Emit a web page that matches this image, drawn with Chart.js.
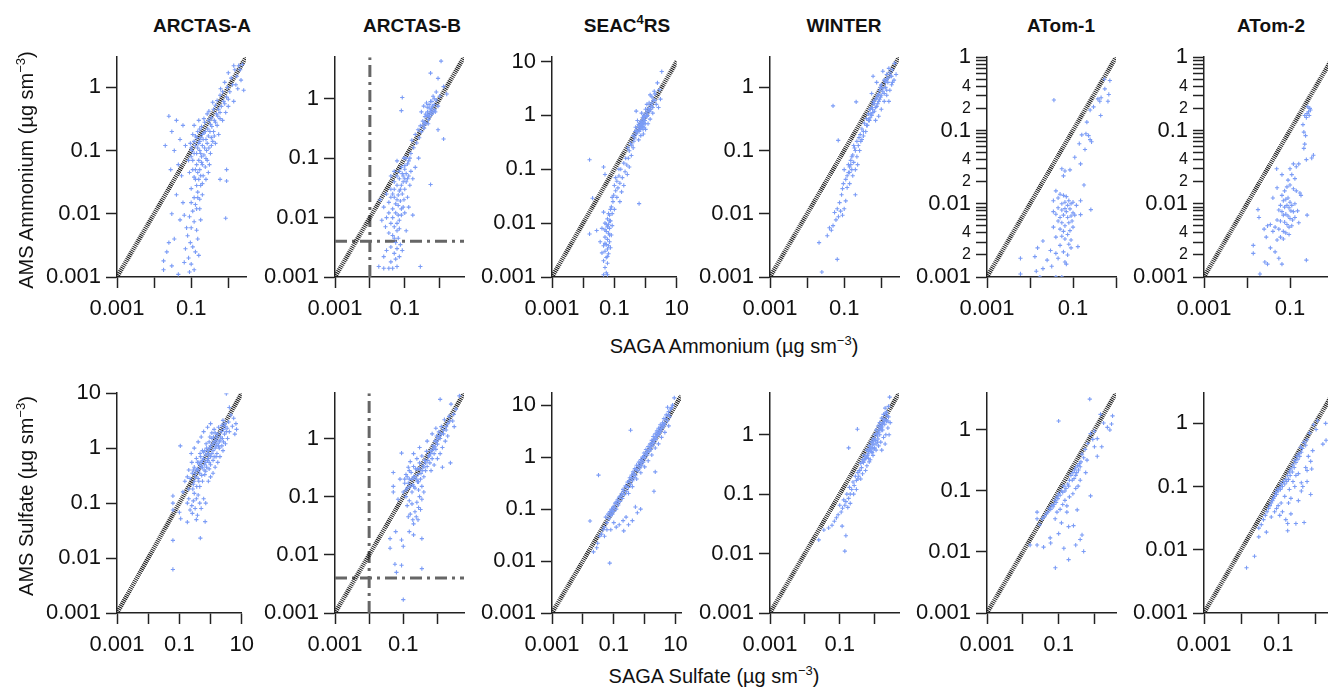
<!DOCTYPE html>
<html>
<head>
<meta charset="utf-8">
<script src="https://cdn.jsdelivr.net/npm/chart.js@4.4.1/dist/chart.umd.min.js"></script>
<style>
  body { margin: 0; width: 1328px; height: 687px; overflow: hidden; background: #fff; position: relative;
         font-family: "Liberation Sans", Arial, sans-serif; color: #111; }
  .ttl { position: absolute; top: 15px; font-weight: bold; font-size: 19px; line-height: 22px;
         transform: translateX(-50%); white-space: nowrap; }
  .axt { position: absolute; font-size: 20px; line-height: 24px; white-space: nowrap; }
  .axt sup, .ttl sup { font-size: 13px; vertical-align: 8px; line-height: 0; }
  canvas { position: absolute; }
</style>
</head>
<body>
<script>
// campaign titles (HTML so SEAC4RS can carry its superscript)
const campaigns = ['ARCTAS-A', 'ARCTAS-B', 'SEAC<sup>4</sup>RS', 'WINTER', 'ATom-1', 'ATom-2'];

// axis upper limits [x, y] per campaign, lower limit is always 0.001
const nh4Limits = [[3, 3], [5, 5], [10, 12], [3, 3], [1, 1], [1, 1]];
const so4Limits = [[10, 10], [6, 6], [15, 17], [5, 5], [4, 4], [3, 3]];

// detection limits drawn for ARCTAS-B (SAGA, AMS)
const lodSaga = 0.01;
const lodAms = 0.004;

// ---- ammonium: [SAGA, AMS] ----
const nh4_arctasA = [
  [2.4,2.3],[2.1,1.9],[1.9,2.2],[1.7,1.5],[2.2,1.3],[1.5,1.9],[1.3,1.1],[1.2,1.4],[1.1,0.85],[0.95,1.0],
  [0.9,0.7],[0.8,1.2],[0.75,0.6],[0.7,0.85],[0.65,0.5],[0.6,0.75],[0.55,0.45],[0.5,0.62],[0.48,0.38],[0.45,0.52],
  [0.42,0.3],[0.4,0.45],[0.38,0.58],[0.35,0.33],[0.33,0.26],[0.3,0.42],[2.6,0.9],[1.8,0.95],[1.4,0.6],[1.0,0.5],
  [0.85,0.4],[0.6,0.32],[1.4,2.2],[1.0,1.7],
  [0.28,0.22],[0.25,0.15],[0.22,0.19],[0.2,0.12],[0.18,0.09],[0.17,0.14],[0.16,0.07],[0.15,0.11],[0.14,0.06],[0.13,0.17],
  [0.12,0.09],[0.11,0.05],[0.1,0.08],[0.095,0.13],[0.09,0.045],[0.3,0.11],[0.35,0.16],[0.4,0.2],[0.27,0.07],[0.24,0.055],
  [0.21,0.04],[0.19,0.065],[0.16,0.035],[0.14,0.028],[0.12,0.038],[0.1,0.025],[0.33,0.09],[0.45,0.13],[0.5,0.25],[0.23,0.28],
  [0.19,0.24],[0.15,0.2],[0.12,0.25],[0.17,0.05],[0.26,0.1],[0.31,0.06],[0.22,0.085],[0.18,0.16],[0.13,0.12],[0.105,0.1],
  [0.085,0.07],[0.2,0.03],[0.25,0.035],[0.29,0.045],[0.55,0.18],[0.7,0.3],
  [0.21,0.15],[0.23,0.11],[0.17,0.1],[0.19,0.08],[0.14,0.09],[0.16,0.13],[0.2,0.18],[0.24,0.2],[0.27,0.13],[0.29,0.17],
  [0.32,0.2],[0.36,0.24],[0.38,0.14],[0.42,0.17],[0.15,0.045],[0.18,0.04],[0.13,0.05],[0.11,0.07],[0.12,0.14],[0.1,0.11],
  [0.17,0.22],[0.22,0.32],[0.27,0.38],[0.3,0.3],[0.2,0.06],[0.25,0.075],[0.14,0.16],[0.16,0.3],[0.11,0.18],[0.13,0.035],
  [0.18,0.028],[0.15,0.022],[0.12,0.018],[0.17,0.017],[0.14,0.012],[0.1,0.015],[0.6,0.4],[0.52,0.35],[0.8,0.55],[1.0,0.65],
  [1.6,1.1],[0.62,0.95],[0.45,0.28],[0.35,0.12],
  [0.15,0.018],[0.13,0.014],[0.11,0.011],[0.17,0.012],[0.09,0.009],[0.1,0.006],[0.12,0.0075],[0.14,0.0055],[0.08,0.0045],[0.095,0.0035],
  [0.11,0.003],[0.13,0.0025],[0.07,0.0028],[0.085,0.002],[0.1,0.0016],[0.12,0.0013],[0.15,0.004],[0.18,0.008],[0.2,0.02],[0.16,0.0022],
  [0.09,0.0012],[0.075,0.006],[0.06,0.015],[0.065,0.0095],
  [0.025,0.35],[0.03,0.2],[0.04,0.3],[0.05,0.15],[0.035,0.1],[0.06,0.25],[0.045,0.06],[0.02,0.12],[0.028,0.05],[0.055,0.04],
  [0.07,0.12],[0.04,0.02],[0.03,0.01],[0.05,0.008],[0.035,0.004],[0.025,0.0035],[0.018,0.0018],[0.022,0.0025],[0.03,0.0015],[0.018,0.0013],
  [0.045,0.0011],[0.065,0.0017],[0.85,0.0085],[0.9,0.033],[0.9,0.05],[0.6,0.035]
];
const nh4_arctasB = [
  [1.1,4.3],[0.55,2.7],[0.9,2.2],[1.3,1.6],[0.8,1.3],[0.65,1.1],[0.7,0.8],[0.55,0.9],[0.5,0.7],[0.45,0.6],
  [0.42,0.85],[0.6,0.55],[0.38,0.5],[0.35,0.75],[0.48,0.45],[0.4,0.38],[0.33,0.42],[0.3,0.6],[0.55,0.62],[0.62,0.75],
  [0.75,0.6],[0.52,0.5],[0.44,0.72],[0.36,0.32],[0.3,0.28],[0.28,0.35],[0.26,0.22],[0.24,0.3],[0.22,0.18],[0.2,0.25],
  [0.18,0.15],[0.16,0.2],[0.15,0.12],[0.14,0.1],[1.3,0.21],[0.9,0.3],[0.085,1.05],[0.08,0.63],[1.6,1.2],
  [0.5,0.55],[0.45,0.52],[0.58,0.68],[0.65,0.6],[0.4,0.55],[0.5,0.8],[0.6,0.9],[0.7,1.0],[0.38,0.4],[0.34,0.36],
  [0.8,0.95],[0.9,0.75],[0.47,0.38],[1.0,1.1],[0.72,0.65],
  [0.12,0.08],[0.1,0.065],[0.09,0.05],[0.08,0.07],[0.07,0.045],[0.06,0.035],[0.05,0.04],[0.11,0.04],[0.1,0.03],[0.085,0.025],
  [0.07,0.028],[0.06,0.02],[0.05,0.022],[0.04,0.03],[0.035,0.018],[0.045,0.014],[0.055,0.012],[0.065,0.016],[0.075,0.019],[0.09,0.015],
  [0.12,0.022],[0.13,0.05],[0.14,0.035],[0.15,0.06],[0.04,0.05],[0.03,0.025],[0.025,0.015],[0.03,0.01],[0.04,0.008],[0.05,0.007],
  [0.06,0.006],[0.07,0.009],[0.08,0.011],[0.1,0.012],[0.065,0.0045],[0.055,0.0038],[0.045,0.005],[0.035,0.0055],[0.028,0.007],[0.022,0.009],
  [0.09,0.04],[0.08,0.035],[0.07,0.06],[0.1,0.045],[0.06,0.05],[0.05,0.03],[0.045,0.025],[0.065,0.024],[0.075,0.03],[0.095,0.02],
  [0.11,0.055],[0.12,0.045],[0.085,0.055],[0.055,0.017],[0.065,0.011],[0.045,0.01],[0.08,0.014],[0.035,0.012],[0.04,0.022],[0.1,0.075],
  [0.13,0.09],[0.11,0.1],[0.06,0.008],[0.05,0.0045],[0.07,0.0065],
  [0.075,0.0035],[0.06,0.003],[0.05,0.0025],[0.04,0.0032],[0.03,0.0028],[0.085,0.0028],[0.07,0.0022],[0.055,0.002],[0.04,0.0018],[0.025,0.0022],
  [0.018,0.0015],[0.025,0.0014],[0.035,0.0014],[0.045,0.0014],[0.06,0.0015],[0.28,0.0015],[0.17,0.011],[0.55,0.036],[0.11,0.006],[0.13,0.015],
  [0.02,0.02],[0.06,0.09],[0.05,0.06],[0.095,0.1],[0.17,0.045],[0.2,0.07],[0.25,0.1]
];
const nh4_seac4rs = [
  [3.3,6.5],[2.4,4.0],[2.0,2.5],[1.8,1.9],[1.6,2.2],[1.5,1.5],[1.3,1.7],[1.2,1.2],[1.1,0.95],[1.0,1.3],
  [0.95,0.8],[0.9,1.0],[0.85,0.7],[0.8,0.9],[0.75,0.6],[0.7,0.75],[0.65,0.55],[0.6,0.68],[0.55,0.5],[0.5,0.45],
  [0.48,0.6],[0.45,0.38],[0.42,0.33],[0.4,0.42],[0.36,0.28],[0.33,0.3],[0.3,0.22],[2.6,1.4],[2.2,1.6],[1.7,1.1],
  [1.4,0.85],[1.2,0.7],[1.0,0.55],[0.85,0.45],[0.7,0.42],[0.6,0.35],[1.9,2.8],[1.4,2.4],[1.1,1.6],[0.75,1.1],
  [0.55,0.8],[0.5,1.2],[0.9,0.6],[3.0,2.0],[2.8,3.0],
  [0.95,0.9],[0.85,0.82],[0.8,0.62],[0.75,0.78],[0.7,0.55],[0.65,0.65],[0.62,0.5],[0.58,0.6],[0.9,0.72],[1.05,1.1],
  [1.15,1.0],[1.25,1.35],[1.35,1.2],[1.45,1.3],[0.78,0.7],[0.68,0.6],[0.72,0.68],[0.88,0.95],[0.52,0.52],[0.46,0.5],
  [1.6,1.7],[1.7,1.4],[2.0,1.9],[0.98,0.7],[0.83,0.55],
  [0.28,0.16],[0.25,0.12],[0.22,0.09],[0.2,0.13],[0.18,0.07],[0.16,0.1],[0.15,0.055],[0.14,0.075],[0.13,0.045],[0.12,0.06],
  [0.11,0.04],[0.1,0.05],[0.095,0.033],[0.12,0.03],[0.3,0.11],[0.26,0.08],[0.2,0.05],[0.35,0.18],[0.4,0.25],[0.17,0.038],
  [0.15,0.025],[0.085,0.03],[0.11,0.07],[0.14,0.1],[0.23,0.16],[0.27,0.25],
  [0.09,0.025],[0.08,0.02],[0.085,0.015],[0.07,0.014],[0.075,0.011],[0.065,0.0095],[0.06,0.012],[0.07,0.008],[0.055,0.007],[0.065,0.0065],
  [0.05,0.0055],[0.06,0.005],[0.07,0.0045],[0.055,0.004],[0.045,0.0038],[0.06,0.0033],[0.05,0.003],[0.065,0.0027],[0.055,0.0023],[0.045,0.002],
  [0.06,0.0018],[0.05,0.0015],[0.055,0.0012],[0.045,0.0011],[0.06,0.0011],[0.08,0.006],[0.085,0.009],[0.1,0.018],[0.075,0.0035],[0.04,0.0028],
  [0.035,0.0045],[0.04,0.008],[0.05,0.01],[0.045,0.016],[0.065,0.015],[0.06,0.0085],[0.055,0.0095],[0.07,0.006],[0.05,0.0075],[0.065,0.0038],
  [0.05,0.0042],[0.06,0.0024],[0.07,0.011],[0.075,0.018],
  [0.016,0.15],[0.02,0.029],[0.016,0.0063],[0.027,0.0073],[0.62,0.023],[0.045,0.11],[0.05,0.08]
];
const nh4_winter = [
  [2.3,2.4],[2.0,1.9],[1.8,1.5],[1.6,2.0],[1.5,1.2],[1.4,1.6],[1.3,1.0],[1.2,1.3],[1.1,0.85],[1.0,1.1],
  [0.95,0.7],[0.9,0.9],[0.85,0.6],[0.8,0.75],[0.75,0.5],[0.7,0.65],[0.65,0.42],[0.6,0.55],[0.55,0.36],[0.5,0.45],
  [0.48,0.3],[0.45,0.38],[0.42,0.25],[0.4,0.32],[0.38,0.2],[0.35,0.27],[0.33,0.17],[0.3,0.22],[2.2,1.3],[1.9,1.1],
  [1.7,0.9],[1.4,0.75],[1.2,0.6],[1.0,0.45],[0.85,0.35],[0.7,0.3],[0.6,1.5],[0.75,1.2],[1.1,1.8],[0.55,0.8],
  [2.5,1.6],[1.6,0.6],
  [1.5,1.4],[1.3,1.2],[1.2,0.8],[1.1,0.95],[1.0,0.75],[0.9,0.65],[0.85,0.78],[0.8,0.55],[0.75,0.68],[0.7,0.48],
  [0.65,0.55],[0.6,0.4],[0.55,0.48],[0.5,0.33],[0.45,0.3],[0.4,0.25],[1.7,1.7],[1.9,1.5],[2.0,1.2],[1.4,0.9],
  [0.58,0.45],[0.52,0.38],[0.62,0.6],[0.95,1.0],[1.35,1.3],
  [0.28,0.14],[0.26,0.1],[0.24,0.12],[0.22,0.08],[0.2,0.1],[0.18,0.065],[0.17,0.085],[0.16,0.05],[0.15,0.07],[0.14,0.045],
  [0.13,0.06],[0.12,0.04],[0.11,0.035],[0.1,0.05],[0.12,0.026],[0.14,0.03],[0.17,0.04],[0.2,0.05],[0.23,0.06],[0.095,0.03],
  [0.09,0.025],[0.25,0.16],[0.3,0.15],[0.069,0.145],[0.2,0.02],
  [0.22,0.14],[0.19,0.11],[0.16,0.08],[0.14,0.055],[0.13,0.045],[0.18,0.12],[0.27,0.18],[0.33,0.2],[0.15,0.06],
  [0.085,0.02],[0.075,0.015],[0.08,0.011],[0.07,0.009],[0.065,0.012],[0.06,0.008],[0.055,0.0105],[0.09,0.0095],[0.1,0.012],[0.05,0.0065],
  [0.045,0.0055],[0.04,0.006],[0.11,0.016],[0.035,0.0045],
  [0.05,0.51],[0.21,0.59],[0.021,0.0035],[0.065,0.0019],[0.025,0.0012]
];
const nh4_atom1 = [
  [0.036,0.26],[0.54,0.5],[0.72,0.48],[0.55,0.37],[0.68,0.31],[0.45,0.28],[0.38,0.27],[0.42,0.25],[0.65,0.25],[0.3,0.21],
  [0.25,0.19],[0.44,0.16],[0.21,0.13],[0.16,0.087],[0.2,0.09],[0.23,0.085],[0.25,0.075],[0.27,0.07],[0.14,0.066],[0.19,0.055],
  [0.11,0.043],[0.15,0.035],[0.18,0.018],[0.055,0.03],[0.065,0.028],[0.06,0.024],[0.085,0.029],
  [0.04,0.015],[0.05,0.0135],[0.045,0.012],[0.06,0.013],[0.07,0.0125],[0.035,0.011],[0.055,0.01],[0.065,0.0105],[0.075,0.0095],[0.08,0.011],
  [0.09,0.01],[0.1,0.0105],[0.045,0.0088],[0.055,0.0082],[0.065,0.0086],[0.07,0.0078],[0.085,0.0085],[0.035,0.0078],[0.04,0.0072],[0.05,0.0065],
  [0.06,0.007],[0.075,0.0065],[0.09,0.0068],[0.1,0.0075],[0.11,0.007],[0.045,0.0058],[0.055,0.0055],[0.065,0.005],[0.08,0.0055],[0.095,0.0058],
  [0.035,0.0048],[0.05,0.0045],[0.06,0.0042],[0.075,0.0038],[0.085,0.0043],[0.1,0.0048],[0.04,0.0035],[0.055,0.0036],[0.065,0.0033],[0.09,0.0032],
  [0.15,0.011],[0.26,0.0083],[0.15,0.0071],[0.13,0.0026],[0.12,0.0095],
  [0.013,0.0019],[0.006,0.0018],[0.006,0.0011],[0.014,0.0012],[0.017,0.001],[0.02,0.0013],[0.015,0.0025],[0.02,0.0031],[0.04,0.001],[0.055,0.001],
  [0.032,0.0014],[0.07,0.0015],[0.04,0.0021],[0.09,0.0025],[0.05,0.0027],[0.06,0.0022],[0.075,0.002],[0.08,0.0028],[0.045,0.0018],[0.03,0.0023],
  [0.065,0.0016],[0.025,0.0017]
];
const nh4_atom2 = [
  [0.26,0.21],[0.27,0.18],[0.28,0.16],[0.25,0.17],[0.3,0.19],[0.29,0.2],[0.24,0.15],[0.22,0.16],[0.2,0.12],[0.21,0.095],
  [0.23,0.085],[0.22,0.065],[0.21,0.057],[0.35,0.046],[0.32,0.042],[0.24,0.04],
  [0.16,0.035],[0.14,0.032],[0.12,0.035],[0.1,0.03],[0.11,0.025],[0.13,0.022],[0.09,0.021],[0.085,0.017],[0.1,0.018],[0.12,0.016],
  [0.14,0.015],[0.17,0.014],[0.075,0.015],[0.065,0.013],[0.07,0.011],[0.08,0.0115],[0.09,0.012],[0.1,0.0105],[0.11,0.0095],[0.13,0.01],
  [0.06,0.0095],[0.075,0.009],[0.085,0.0095],[0.095,0.0088],[0.105,0.008],[0.12,0.0078],[0.15,0.008],[0.055,0.0082],[0.065,0.0078],[0.07,0.007],
  [0.08,0.0072],[0.09,0.0068],[0.1,0.0063],[0.115,0.006],[0.13,0.0065],[0.05,0.006],[0.06,0.0058],[0.075,0.0056],[0.085,0.0052],[0.095,0.0048],
  [0.11,0.005],[0.045,0.0048],[0.055,0.0045],[0.07,0.0042],[0.08,0.004],[0.095,0.0038],[0.06,0.0035],[0.07,0.0033],[0.05,0.0032],[0.04,0.0042],
  [0.035,0.0052],[0.25,0.007],[0.24,0.0017],[0.049,0.03],[0.05,0.0165],[0.065,0.025],[0.04,0.012],[0.18,0.013],[0.16,0.0055],
  [0.018,0.0083],[0.019,0.0065],[0.014,0.0027],[0.014,0.0021],[0.02,0.0011],[0.026,0.0016],[0.03,0.0015],[0.035,0.0025],[0.045,0.0022],[0.03,0.005],
  [0.025,0.0045],[0.055,0.0018],[0.065,0.0015],[0.028,0.0035]
];

// ---- sulfate: [SAGA, AMS] ----
const so4_arctasA = [
  [3.2,9.8],[4.0,5.5],[6.5,2.8],[6.8,2.2],[5.5,3.5],[4.5,4.0],[3.8,3.0],[3.0,2.5],[2.5,3.2],[2.8,1.8],
  [2.2,2.0],[2.0,1.4],[1.8,2.4],[1.6,1.6],[1.5,1.1],[1.4,1.9],[1.3,1.3],[1.2,0.9],[1.1,1.5],[1.0,1.1],
  [0.95,0.75],[0.9,1.3],[0.85,0.9],[0.8,0.6],[0.75,1.0],[0.7,0.75],[0.65,0.5],[0.6,0.85],[0.55,0.6],[0.5,0.45],
  [0.48,0.7],[0.45,0.35],[0.42,0.55],[0.4,0.28],[0.38,0.42],[0.35,0.65],[0.33,0.3],[0.3,0.45],[0.28,0.22],[0.26,0.35],
  [0.25,0.55],[0.22,0.28],[0.2,0.4],[0.2,0.18],[0.18,0.3],[0.24,0.8],[0.3,1.0],[0.4,1.3],[0.5,1.6],[0.6,2.0],
  [0.8,2.4],[1.0,2.8],[1.3,2.2],[3.5,1.5],[3.0,1.2],[2.5,0.9],[2.0,0.7],[1.7,0.55],[1.4,0.45],[1.2,0.35],
  [1.0,0.3],[0.85,0.25],[2.6,1.3],[1.9,1.0],[1.6,0.8],[1.2,0.6],[1.0,0.5],[0.7,0.38],[0.55,0.25],[0.45,0.2],
  [4.0,2.0],[5.0,2.5],[6.0,1.8],[3.4,2.3],[2.3,1.1],[1.5,0.7],[0.9,0.42],[0.65,0.33],
  [1.1,0.8],[1.2,1.2],[1.3,0.7],[0.95,1.0],[0.9,0.55],[0.8,0.8],[0.7,0.55],[0.65,0.9],[0.6,0.65],[0.55,0.45],
  [0.5,0.55],[0.45,0.5],[0.4,0.4],[0.38,0.55],[0.35,0.4],[0.32,0.35],[0.3,0.25],[0.28,0.4],[1.5,1.4],[1.6,1.2],
  [1.7,1.8],[1.9,1.3],[2.1,1.6],[2.3,2.6],[2.6,2.2],[2.9,2.8],[3.2,2.0],[1.4,1.0],[1.0,0.7],[0.85,0.65],
  [0.75,0.45],[0.62,0.4],[0.52,0.32],[0.42,0.25],[0.36,0.2],[0.27,0.18],[1.25,1.6],[0.72,1.2],[0.55,0.9],[0.95,1.6],
  [2.4,1.5],[1.8,1.1],[1.1,1.9],[0.46,0.8],
  [0.3,0.15],[0.28,0.11],[0.25,0.09],[0.35,0.12],[0.4,0.14],[0.45,0.1],[0.32,0.08],[0.22,0.075],[0.2,0.12],[0.18,0.1],
  [0.26,0.065],[0.38,0.06],[0.5,0.08],[0.6,0.12],[0.7,0.1],[0.35,0.05],[0.67,0.046],[0.47,0.023],[0.18,0.045],
  [0.107,1.1],[0.062,0.135],[0.062,0.1],[0.062,0.075],[0.1,0.068],[0.11,0.052],[0.062,0.021],[0.062,0.0062],[0.13,0.16],[0.15,0.25]
];
const so4_arctasB = [
  [1.2,4.7],[4.4,5.4],[2.5,3.9],[3.1,1.6],[2.4,0.38],[1.4,0.32],[3.5,3.2],[3.0,2.6],[2.8,2.0],[2.2,2.4],
  [2.0,1.8],[1.8,1.4],[1.6,2.1],[1.5,1.2],[1.3,1.6],[1.2,1.0],[1.1,1.3],[1.0,0.8],[0.95,1.1],[0.9,0.65],
  [0.85,0.9],[0.8,0.55],[0.75,0.75],[0.7,0.45],[0.65,0.62],[0.6,0.38],[0.55,0.5],[0.5,0.33],[0.48,0.6],[0.45,0.28],
  [0.42,0.42],[0.4,0.22],[0.38,0.34],[0.35,0.5],[0.33,0.25],[0.3,0.38],[0.28,0.18],[0.26,0.3],[0.25,0.45],[0.22,0.22],
  [0.2,0.33],[0.19,0.16],[0.17,0.26],[0.15,0.2],[0.14,0.32],[0.13,0.14],[0.12,0.24],[0.11,0.17],[0.1,0.12],[0.16,0.4],
  [0.2,0.55],[0.3,0.7],[0.5,0.9],[0.7,1.2],[0.9,1.5],[1.7,0.9],[1.4,0.7],[1.2,0.55],[1.0,0.45],[0.8,0.35],
  [0.65,0.28],[2.0,1.1],[0.089,0.56],[0.051,0.26],[0.051,0.15],[0.051,0.12],[0.07,0.09],[0.08,0.2],
  [0.3,0.3],[0.27,0.24],[0.24,0.2],[0.23,0.3],[0.2,0.22],[0.18,0.2],[0.16,0.15],[0.14,0.17],[0.13,0.22],[0.12,0.13],
  [0.18,0.12],[0.22,0.14],[0.26,0.18],[0.32,0.2],[0.36,0.28],[0.4,0.32],[0.45,0.38],[0.52,0.42],[0.58,0.5],[0.63,0.55],
  [0.7,0.62],[0.78,0.68],[0.85,0.72],[0.95,0.9],[1.05,1.0],[1.15,1.1],[1.3,1.2],[1.5,1.4],[1.8,1.6],[2.3,2.0],
  [0.11,0.2],[0.15,0.28],[0.2,0.15],[0.28,0.13],[0.35,0.15],
  [0.22,0.055],[0.2,0.034],[0.18,0.075],[0.25,0.08],[0.3,0.1],[0.35,0.09],[0.28,0.065],[0.16,0.05],[0.15,0.085],[0.24,0.045],
  [0.32,0.06],[0.4,0.12],[0.13,0.07],[0.19,0.04],[0.27,0.04],[0.12,0.1],[0.14,0.045],
  [0.041,0.019],[0.041,0.013],[0.089,0.018],[0.1,0.014],[0.2,0.022],[0.35,0.019],[0.057,0.0069],[0.089,0.0066],[0.063,0.005],[0.35,0.0058],
  [0.1,0.0017],[0.06,0.025],[0.15,0.025]
];
const so4_seac4rs = [
  [9.1,13.8],[5.5,9.1],[8.0,10],[7.0,8.5],[6.5,6.0],[6.0,7.5],[5.5,5.0],[5.0,6.5],[4.5,4.5],[4.2,5.5],
  [4.0,3.8],[3.8,4.6],[3.5,3.5],[3.2,4.2],[3.0,3.0],[2.8,3.6],[2.6,2.6],[2.5,3.2],[2.3,2.2],[2.2,2.8],
  [2.0,1.9],[1.9,2.5],[1.8,1.7],[1.7,2.1],[1.6,1.4],[1.5,1.8],[1.4,1.3],[1.3,1.6],[1.2,1.1],[1.1,1.4],
  [1.0,0.95],[0.95,1.2],[0.9,0.8],[0.85,1.0],[0.8,0.7],[0.75,0.9],[0.7,0.62],[0.65,0.8],[0.6,0.55],[0.55,0.7],
  [0.5,0.45],[0.48,0.6],[0.45,0.4],[0.42,0.52],[0.4,0.35],[0.38,0.45],[0.35,0.3],[0.33,0.4],[0.3,0.26],[0.28,0.33],
  [0.26,0.22],[0.24,0.28],[0.22,0.19],[0.2,0.24],[0.19,0.16],[0.18,0.2],[0.16,0.14],[0.15,0.17],[0.14,0.12],[0.13,0.15],
  [0.12,0.1],[0.11,0.13],[0.1,0.09],[0.095,0.11],[0.09,0.08],[0.085,0.1],[0.08,0.075],[0.075,0.09],[0.07,0.065],[0.065,0.08],
  [0.06,0.055],[0.055,0.07],[0.05,0.045],[0.045,0.04],[0.04,0.033],[0.035,0.03],[0.03,0.022],[0.028,0.018],[6.0,4.0],[4.5,3.0],
  [3.5,2.4],[2.8,1.8],[2.2,1.5],[1.7,1.1],[1.3,0.85],[1.0,0.65],[0.75,0.5],[0.55,0.38],[0.4,0.27],[0.3,0.2],
  [3.6,4.0],[3.3,3.2],[3.1,3.6],[2.9,2.8],[2.7,3.0],[2.4,2.5],[2.1,2.3],[1.95,2.1],[1.75,1.9],[1.55,1.6],
  [1.45,1.5],[1.25,1.3],[1.15,1.2],[1.05,1.1],[0.92,1.0],[0.82,0.85],[0.72,0.75],[0.62,0.68],[0.52,0.58],[0.44,0.48],
  [0.37,0.4],[0.31,0.35],[0.25,0.27],[0.21,0.22],[0.17,0.18],[0.14,0.14],[0.12,0.13],[0.105,0.11],[0.09,0.095],[0.08,0.085],
  [4.8,5.5],[5.8,6.5],[7.5,9.0],[4.3,4.2],[3.9,4.3],
  [0.35,3.3],[2.2,0.52],[2.0,0.22],[0.032,0.45],[0.017,0.059],[0.022,0.015],[0.074,0.0091],[0.21,0.038],[0.74,0.1],[0.4,0.06],
  [0.58,0.085],[0.3,0.05],[0.25,0.07],[0.5,0.11],[0.2,0.06],[0.15,0.05],[0.12,0.045],[0.1,0.055],[0.08,0.04],[0.06,0.04],
  [0.05,0.03]
];
const so4_winter = [
  [2.7,4.3],[2.5,3.0],[2.2,2.4],[2.0,2.8],[1.9,1.8],[1.8,2.2],[1.7,1.5],[1.6,1.9],[1.5,1.3],[1.4,1.6],
  [1.3,1.1],[1.25,1.4],[1.2,0.95],[1.1,1.2],[1.05,0.8],[1.0,1.0],[0.95,0.7],[0.9,0.85],[0.85,0.6],[0.8,0.75],
  [0.75,0.55],[0.7,0.65],[0.65,0.48],[0.6,0.55],[0.55,0.4],[0.5,0.45],[0.48,0.34],[0.45,0.38],[0.42,0.28],[0.4,0.33],
  [2.8,1.6],[2.4,1.3],[2.6,1.0],[2.1,1.0],[1.8,0.9],[1.5,0.75],[1.3,0.65],[1.1,0.55],[0.9,0.45],[0.75,0.38],
  [0.6,0.3],[2.0,0.7],[1.6,0.55],[2.5,2.0],[1.4,1.0],[1.2,0.75],[1.0,0.6],[0.85,0.5],[2.2,1.7],[1.7,1.2],
  [0.32,1.24],[0.18,0.6],[0.7,0.35],[0.55,0.25],
  [1.35,1.2],[1.15,1.05],[1.0,0.85],[0.92,0.78],[0.88,0.68],[0.78,0.62],[0.72,0.58],[0.68,0.52],[0.62,0.45],[0.58,0.42],
  [0.52,0.38],[0.47,0.35],[1.45,1.35],[1.55,1.45],[1.65,1.35],[1.85,1.7],[1.95,1.5],[2.1,1.8],[2.3,2.1],[2.4,1.7],
  [1.25,0.85],[1.1,0.7],[0.95,0.58],[0.82,0.52],[0.66,0.4],[2.0,2.3],[1.75,1.6],[1.55,1.2],[0.36,0.25],[0.33,0.18],
  [0.38,0.25],[0.35,0.2],[0.33,0.23],[0.3,0.17],[0.28,0.2],[0.26,0.14],[0.24,0.16],[0.22,0.12],[0.2,0.1],[0.19,0.13],
  [0.18,0.085],[0.16,0.1],[0.15,0.075],[0.14,0.065],[0.13,0.08],[0.12,0.058],[0.11,0.05],[0.1,0.065],[0.3,0.12],[0.25,0.1],
  [0.2,0.07],[0.17,0.06],[0.4,0.18],[0.45,0.22],[0.09,0.045],[0.08,0.04],[0.07,0.035],[0.06,0.03],
  [0.035,0.025],[0.048,0.027],[0.025,0.017],[0.117,0.029],[0.15,0.02],[0.14,0.011]
];
const so4_atom1 = [
  [0.74,3.2],[0.1,1.4],[1.48,1.8],[3.2,1.7],[3.0,1.25],[2.7,1.0],[2.3,1.1],[0.78,0.87],[1.2,0.72],[1.6,0.53],
  [1.0,0.53],[1.2,0.37],[0.62,0.32],[0.57,0.2],[0.78,0.083],[1.8,1.3],[1.0,0.95],[0.9,0.7],[0.65,0.6],[0.55,0.48],
  [0.5,0.35],[0.45,0.4],[0.42,0.3],[0.4,0.25],[0.38,0.28],[0.36,0.22],[0.34,0.26],[0.32,0.2],[0.3,0.24],[0.3,0.18],
  [0.28,0.22],[0.27,0.16],[0.25,0.2],[0.24,0.15],[0.22,0.18],[0.2,0.15],[0.19,0.12],[0.18,0.13],[0.16,0.11],[0.15,0.1],
  [0.14,0.12],[0.13,0.095],[0.12,0.1],[0.11,0.085],[0.1,0.09],[0.095,0.075],[0.09,0.08],[0.085,0.065],[0.08,0.07],[0.075,0.06],
  [0.07,0.055],[0.065,0.058],[0.06,0.05],[0.055,0.052],[0.05,0.045],[0.045,0.042],[0.04,0.038],[0.035,0.035],[0.03,0.028],[0.025,0.045],
  [0.025,0.035],[0.11,0.05],[0.13,0.06],[0.09,0.045],[0.08,0.035],[0.15,0.07],[0.2,0.08],[0.25,0.09],[0.3,0.11],[0.35,0.12],
  [0.4,0.15],[0.17,0.057],[0.17,0.045],[0.33,0.049],[0.26,0.027],[0.19,0.026],[0.12,0.03],
  [0.016,0.013],[0.025,0.013],[0.038,0.012],[0.058,0.017],[0.06,0.014],[0.081,0.0055],[0.14,0.0115],[0.19,0.0075],[0.3,0.013],[0.4,0.016],
  [0.45,0.019],[0.5,0.0102],[0.1,0.02]
];
const so4_atom2 = [
  [1.15,1.1],[1.05,0.8],[1.9,1.0],[1.95,0.54],[1.6,0.47],[0.85,0.37],[0.75,0.25],[0.8,0.19],[0.6,0.18],[0.55,0.2],
  [0.42,0.115],[0.46,0.1],[0.42,0.085],[0.75,0.075],[0.5,0.027],[0.3,0.026],[0.18,0.026],[0.18,0.02],[0.22,0.037],[0.16,0.03],
  [0.048,0.019],[0.023,0.0079],[0.014,0.0052],
  [0.9,0.95],[0.7,0.7],[0.6,0.55],[0.55,0.45],[0.5,0.5],[0.45,0.4],[0.42,0.35],[0.4,0.42],[0.38,0.3],[0.36,0.33],
  [0.34,0.27],[0.32,0.3],[0.3,0.24],[0.28,0.26],[0.27,0.2],[0.25,0.22],[0.24,0.17],[0.22,0.19],[0.21,0.15],[0.2,0.17],
  [0.19,0.13],[0.18,0.15],[0.17,0.12],[0.16,0.13],[0.15,0.11],[0.14,0.12],[0.13,0.1],[0.12,0.11],[0.115,0.09],[0.11,0.095],
  [0.1,0.085],[0.095,0.09],[0.09,0.075],[0.085,0.08],[0.08,0.07],[0.075,0.065],[0.07,0.06],[0.065,0.055],[0.06,0.05],[0.055,0.045],
  [0.05,0.04],[0.045,0.035],[0.04,0.03],[0.035,0.025],[0.03,0.022],[0.03,0.016],[0.25,0.12],[0.3,0.15],[0.2,0.09],[0.15,0.07],
  [0.12,0.055],[0.1,0.05],[0.09,0.045],[0.35,0.16],[0.28,0.1],[0.22,0.065],[0.13,0.04],[0.11,0.035],[0.08,0.04],[0.065,0.033],
  [0.19,0.055],[0.35,0.06],[0.6,0.12],[0.65,0.3]
];

const nh4Data = [nh4_arctasA, nh4_arctasB, nh4_seac4rs, nh4_winter, nh4_atom1, nh4_atom2];
const so4Data = [so4_arctasA, so4_arctasB, so4_seac4rs, so4_winter, so4_atom1, so4_atom2];

// ---- layout ----
const plotLefts = [117, 335, 552, 770, 987, 1204];
const rowTops = [53, 389];
const titleCenters = [202, 412, 627, 844, 1061, 1271];
const PW = 129, PH = 224;
const ML = 80, MT = 14, MR = 16, MB = 50;
const FONT = '"Liberation Sans", Arial, sans-serif';
const PT_COLOR = '#7b9cf6';

function mantissa(v) {
  return Math.round(v / Math.pow(10, Math.floor(Math.log10(v) + 1e-9)));
}
function decades(max) {
  const t = [];
  for (let e = -3; Math.pow(10, e) <= max * 1.001; e++) t.push(Math.pow(10, e));
  return t;
}
function withMinor(max) {
  const t = [];
  for (let e = -3; Math.pow(10, e) <= max * 1.001; e++) {
    for (let m = 1; m <= 9; m++) {
      const v = Number((m * Math.pow(10, e)).toPrecision(2));
      if (v <= max * 1.001) t.push(v);
    }
  }
  return t;
}
function fmt(v) { return String(Number(v.toPrecision(2))); }

function makePanel(row, col, pts, lim) {
  const [xMax, yMax] = lim;
  const minor = row === 0 && col >= 4;
  const cv = document.createElement('canvas');
  const W = ML + PW + MR, H = MT + PH + MB;
  cv.width = W; cv.height = H;
  cv.style.left = (plotLefts[col] - ML) + 'px';
  cv.style.top = (rowTops[row] - MT) + 'px';
  cv.style.width = W + 'px'; cv.style.height = H + 'px';
  document.body.appendChild(cv);

  const d = Math.min(xMax, yMax);
  const datasets = [
    { data: pts.map(p => ({ x: p[0], y: p[1] })), pointStyle: 'cross', pointRadius: 2.1,
      borderColor: PT_COLOR, backgroundColor: PT_COLOR, borderWidth: 1.1, order: 0 },
    { data: [{ x: 0.001, y: 0.001 }, { x: d, y: d }], showLine: true, pointRadius: 0,
      borderColor: '#1a1a1a', borderWidth: 4.5, borderDash: [1, 1], order: 1 }
  ];
  if (col === 1) {
    datasets.push({ data: [{ x: lodSaga, y: 0.001 }, { x: lodSaga, y: yMax }], showLine: true, pointRadius: 0,
      borderColor: '#666', borderWidth: 3, borderDash: [12, 5, 3, 5], order: 2 });
    datasets.push({ data: [{ x: 0.001, y: lodAms }, { x: xMax, y: lodAms }], showLine: true, pointRadius: 0,
      borderColor: '#666', borderWidth: 3, borderDash: [12, 5, 3, 5], order: 2 });
  }

  const gridOpts = { display: true, drawOnChartArea: false, drawTicks: true, tickLength: 11, tickColor: '#222', tickWidth: 1.5 };
  const borderOpts = { display: true, color: '#222', width: 1.5 };

  new Chart(cv, {
    type: 'scatter',
    data: { datasets },
    options: {
      responsive: false,
      animation: false,
      layout: { autoPadding: false, padding: { left: 0, top: MT, right: MR, bottom: 0 } },
      plugins: { legend: { display: false }, tooltip: { enabled: false } },
      scales: {
        x: {
          type: 'logarithmic', min: 0.001, max: xMax,
          afterBuildTicks: s => { s.ticks = decades(xMax).map(v => ({ value: v })); },
          afterFit: s => { s.height = MB; },
          ticks: { autoSkip: false, maxRotation: 0, padding: 8, color: '#111', font: { family: FONT, size: 22 },
                   callback: v => (Math.round(Math.log10(v)) + 3) % 2 === 0 ? fmt(v) : '' },
          grid: gridOpts, border: borderOpts
        },
        y: {
          type: 'logarithmic', min: 0.001, max: yMax,
          afterBuildTicks: s => { s.ticks = (minor ? withMinor(yMax) : decades(yMax)).map(v => ({ value: v })); },
          afterFit: s => { s.width = ML; },
          ticks: { autoSkip: false, padding: 5, color: '#111',
                   font: c => ({ family: FONT, size: (c.tick && mantissa(c.tick.value) !== 1) ? 16 : 22 }),
                   callback: v => {
                     const m = mantissa(v);
                     if (m === 1) return fmt(v);
                     return (m === 2 || m === 4) ? String(m) : '';
                   } },
          grid: gridOpts, border: borderOpts
        }
      }
    }
  });
}

campaigns.forEach((name, i) => {
  const t = document.createElement('div');
  t.className = 'ttl';
  t.style.left = titleCenters[i] + 'px';
  t.innerHTML = name;
  document.body.appendChild(t);
  makePanel(0, i, nh4Data[i], nh4Limits[i]);
  makePanel(1, i, so4Data[i], so4Limits[i]);
});

// axis titles
function axisTitle(html, cx, cy, rotate) {
  const el = document.createElement('div');
  el.className = 'axt';
  el.innerHTML = html;
  el.style.left = cx + 'px';
  el.style.top = cy + 'px';
  el.style.transform = 'translate(-50%,-50%)' + (rotate ? ' rotate(-90deg)' : '');
  document.body.appendChild(el);
}
axisTitle('AMS Ammonium (µg sm<sup>−3</sup>)', 26, 170, true);
axisTitle('AMS Sulfate (µg sm<sup>−3</sup>)', 26, 496, true);
axisTitle('SAGA Ammonium (µg sm<sup>−3</sup>)', 734, 346, false);
axisTitle('SAGA Sulfate (µg sm<sup>−3</sup>)', 714, 676, false);
</script>
</body>
</html>
